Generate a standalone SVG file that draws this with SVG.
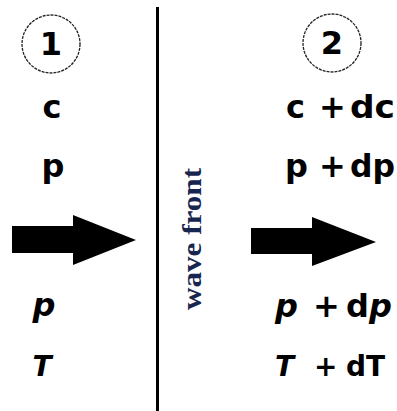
<svg xmlns="http://www.w3.org/2000/svg" width="397" height="411" viewBox="0 0 397 411">
<style>
.t{font-family:"DejaVu Sans","Liberation Sans",sans-serif;font-weight:bold;font-size:32px;fill:#000}
.i{font-style:italic}
.s{font-size:28px}
.c{fill:none;stroke:#222;stroke-width:1.3;stroke-dasharray:3,1}
.wf{font-family:"Liberation Serif","DejaVu Serif",serif;font-weight:bold;font-size:27px;fill:#17264f}
</style>
<rect width="397" height="411" fill="#fff"/>
<g id="divider"><rect x="156" y="7" width="3" height="404" fill="#000"/></g>
<g id="wave-front"><text class="wf" transform="translate(201,239) rotate(-90)" text-anchor="middle" textLength="142" lengthAdjust="spacingAndGlyphs">wave front</text></g>
<g id="region1">
<circle class="c" cx="51" cy="44" r="29"/>
<text class="t" x="51" y="55" text-anchor="middle">1</text>
<text class="t" x="52" y="118" text-anchor="middle">c</text>
<text class="t" x="53" y="177" text-anchor="middle">p</text>
<text class="t i" x="44" y="316" text-anchor="middle">p</text>
<text class="t i s" x="42" y="376" text-anchor="middle">T</text>
</g>
<g id="region2">
<circle class="c" cx="332" cy="43" r="29"/>
<text class="t" x="332" y="54" text-anchor="middle">2</text>
<text class="t" x="286" y="118">c</text>
<text class="t" x="319" y="118">+</text>
<text class="t" x="350" y="118" textLength="45" lengthAdjust="spacingAndGlyphs">dc</text>
<text class="t" x="285" y="177">p</text>
<text class="t" x="319" y="177">+</text>
<text class="t" x="350" y="177" textLength="45" lengthAdjust="spacingAndGlyphs">dp</text>
<text class="t i" x="275" y="317">p</text>
<text class="t" x="313" y="317">+</text>
<text class="t" x="346" y="317">d<tspan class="i">p</tspan></text>
<text class="t i s" x="275" y="376">T</text>
<text class="t s" x="314" y="376">+</text>
<text class="t s" x="346" y="376">dT</text>
</g>
<g id="connectors">
<polygon points="12,226 73,226 73,215 136,240 73,265 73,253 12,253" fill="#000"/>
<polygon points="251,228 312,228 312,217 376,242 312,266 312,254 251,254" fill="#000"/>
</g>
</svg>
